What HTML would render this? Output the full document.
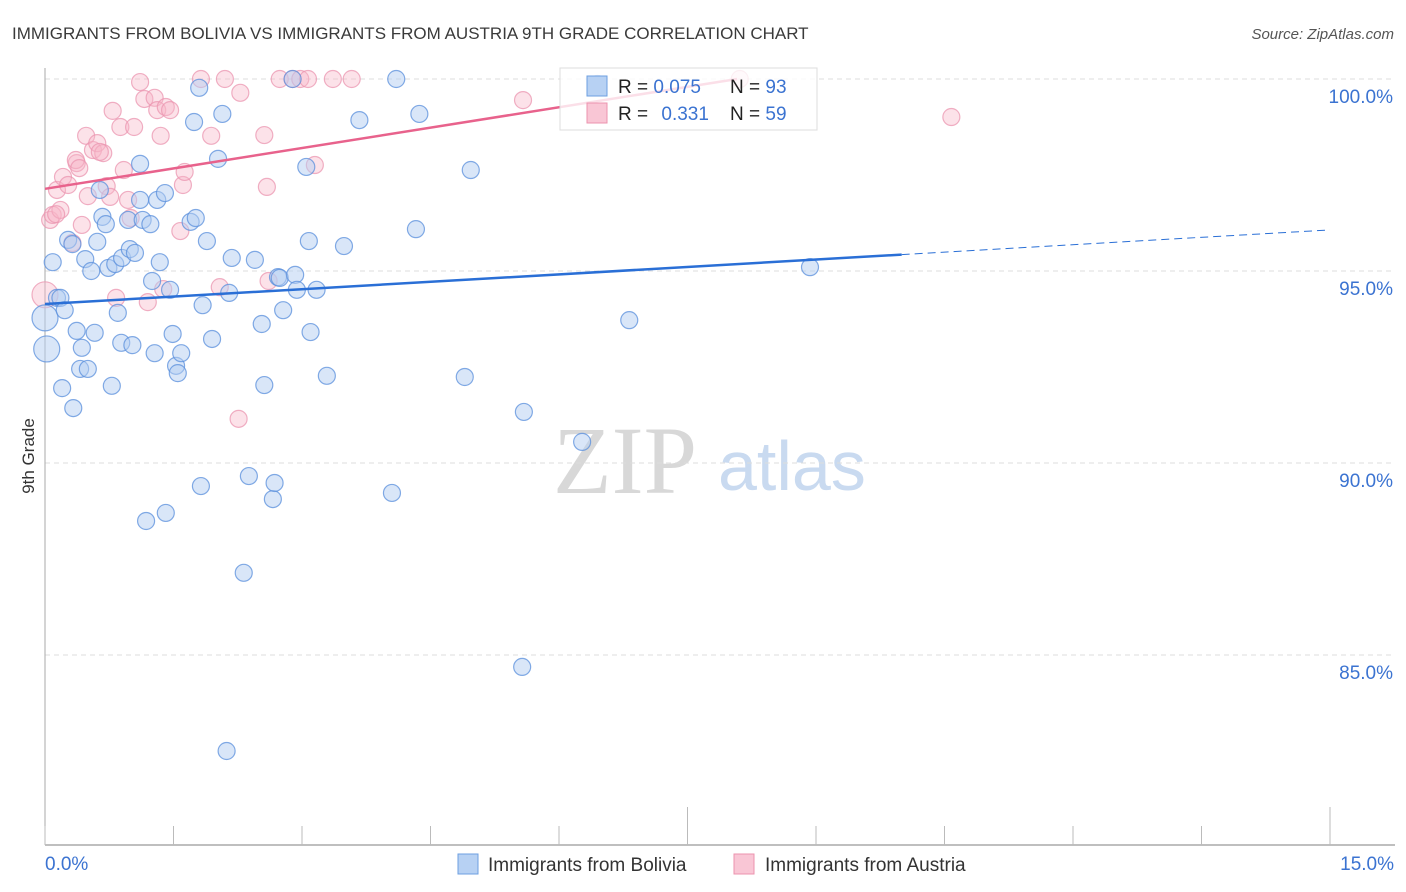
<!DOCTYPE html>
<html><head><meta charset="utf-8">
<style>
body{margin:0;background:#fff;font-family:"Liberation Sans",sans-serif;}
svg{display:block}
</style></head>
<body>
<svg id="chart" width="1406" height="892" viewBox="0 0 1406 892">
<text x="12" y="39" font-size="17" fill="#3a3a3a">IMMIGRANTS FROM BOLIVIA VS IMMIGRANTS FROM AUSTRIA 9TH GRADE CORRELATION CHART</text>
<text x="1394" y="39" font-size="15" fill="#555" font-style="italic" text-anchor="end">Source: ZipAtlas.com</text>
<text x="34" y="456" font-size="17" fill="#333" text-anchor="middle" transform="rotate(-90 34 456)">9th Grade</text>
<g>
<text x="553" y="493" font-size="96" font-family="Liberation Serif,serif" fill="#d8d8d8">ZIP</text>
<text x="718" y="490" font-size="70" fill="#c9daf0">atlas</text>
</g>
<g id="grid"></g>
<g id="axes"></g>
<g id="pts"></g>
<g id="lines"></g>
<g>
<rect x="560" y="68" width="257" height="62" fill="#fff" fill-opacity="0.8" stroke="#ddd"/>
<rect x="587" y="76" width="20" height="20" fill="#b7d1f3" stroke="#6d9fe0"/>
<rect x="587" y="103" width="20" height="20" fill="#f9c6d5" stroke="#ec93ae"/>
<text x="618" y="93" font-size="19" fill="#222">R = <tspan fill="#3b73d1">0.075</tspan></text>
<text x="730" y="93" font-size="19" fill="#222">N = <tspan fill="#3b73d1">93</tspan></text>
<text x="618" y="120" font-size="19" fill="#222">R = <tspan fill="#3b73d1" dx="8">0.331</tspan></text>
<text x="730" y="120" font-size="19" fill="#222">N = <tspan fill="#3b73d1">59</tspan></text>
</g>
<g>
<rect x="458" y="854" width="20" height="20" fill="#b7d1f3" stroke="#6d9fe0"/>
<text x="488" y="871" font-size="19" fill="#333">Immigrants from Bolivia</text>
<rect x="734" y="854" width="20" height="20" fill="#f9c6d5" stroke="#ec93ae"/>
<text x="765" y="871" font-size="19" fill="#333">Immigrants from Austria</text>
</g>
</svg>
<script>
const yTicks=[100,95,90,85];
const yTickLabels=["100.0%","95.0%","90.0%","85.0%"];
const xTicks=[0,1.5,3,4.5,6,7.5,9,10.5,12,13.5,15];
const xTickLabels=["0.0%","15.0%"];
const blueX=[0.00,0.02,0.09,0.14,0.18,0.23,0.20,0.27,0.32,0.33,0.37,0.41,0.43,0.47,0.50,0.54,0.58,0.61,0.64,0.67,0.71,0.74,0.78,0.82,0.85,0.89,0.90,0.97,0.99,1.02,1.05,1.11,1.11,1.14,1.18,1.23,1.25,1.28,1.31,1.34,1.40,1.41,1.46,1.49,1.53,1.55,1.59,1.70,1.74,1.76,1.80,1.82,1.84,1.89,1.95,2.02,2.07,2.12,2.15,2.18,2.32,2.38,2.45,2.53,2.56,2.66,2.68,2.72,2.74,2.78,2.89,2.92,2.94,3.05,3.08,3.10,3.17,3.29,3.49,3.67,4.05,4.10,4.33,4.37,4.90,4.97,5.57,5.59,6.27,6.82,8.93,6.45];
const blueY=[93.78,92.97,95.23,94.30,94.30,93.98,91.95,95.81,95.70,91.43,93.44,92.45,93.00,95.31,92.45,95.00,93.39,95.76,97.11,96.41,96.22,95.08,92.01,95.18,93.91,93.13,95.34,96.33,95.57,93.07,95.47,97.79,96.85,96.33,88.49,96.22,94.74,92.86,96.85,95.23,97.03,88.70,94.51,93.36,92.53,92.34,92.86,96.28,98.88,96.38,99.77,89.40,94.11,95.78,93.23,97.92,99.09,82.50,94.43,95.34,87.14,89.66,95.29,93.62,92.03,89.06,89.48,94.84,94.82,93.98,100.00,94.90,94.51,97.71,95.78,93.41,94.51,92.27,95.65,98.93,89.22,100.00,96.09,99.09,92.24,97.63,84.69,91.33,90.55,93.72,95.10,99.87];
const pinkX=[0.00,0.06,0.09,0.14,0.18,0.21,0.27,0.32,0.37,0.43,0.48,0.50,0.56,0.61,0.68,0.72,0.76,0.79,0.83,0.88,0.92,0.97,1.00,1.04,1.11,1.16,1.20,1.28,1.31,1.35,1.38,1.41,1.46,1.58,1.61,1.63,1.82,1.94,2.04,2.10,2.28,2.26,2.56,2.59,2.61,2.74,2.89,2.98,3.07,3.15,3.36,3.58,5.58,10.58,8.11,0.13,0.36,0.40,0.64];
const pinkY=[94.38,96.33,96.46,97.11,96.59,97.45,97.24,95.73,97.81,96.20,98.52,96.95,98.15,98.33,98.07,97.21,96.93,99.17,94.30,98.75,97.63,96.85,96.38,98.75,99.92,99.48,94.19,99.51,99.19,98.52,94.53,99.27,99.19,96.04,97.24,97.58,100.00,98.52,94.58,100.00,99.64,91.15,98.54,97.19,94.74,100.00,100.00,100.00,100.00,97.76,100.00,100.00,99.45,99.01,100.00,96.48,97.89,97.68,98.10];
const blueTrend=[94.14,96.07];
const pinkTrend=[97.14,0.354];
const NS="http://www.w3.org/2000/svg";
const X=v=>45+v/15*1285;
const Y=v=>79+(100-v)*38.4;
function mk(tag,attrs,parent){const e=document.createElementNS(NS,tag);for(const k in attrs)e.setAttribute(k,attrs[k]);parent.appendChild(e);return e;}
const grid=document.getElementById('grid'),axes=document.getElementById('axes'),pts=document.getElementById('pts'),lines=document.getElementById('lines');
yTicks.forEach((t,i)=>{
 const l=mk('line',{x1:45,x2:1395,y1:Y(t),y2:Y(t),stroke:'#ddd','stroke-dasharray':'5,4'},grid);
 
 
 const tx=mk('text',{x:1393,y:Y(t)+24,'font-size':19,fill:'#3b73d1','text-anchor':'end'},axes);
 tx.textContent=yTickLabels[i];
 
 
});
const ya=mk('line',{x1:45,x2:45,y1:68,y2:845,stroke:'#aaa'},axes);


const xa=mk('line',{x1:45,x2:1395,y1:845,y2:845,stroke:'#aaa','stroke-width':1.5},axes);


xTicks.forEach((t,i)=>{
 const long=(i===5||i===10);
 const tk=mk('line',{x1:X(t),x2:X(t),y1:long?807:826,y2:845,stroke:'#bbb'},axes);
 
 
});
[[0,'start',45],[15,'end',1394]].forEach((d,i)=>{
 const tx=mk('text',{x:d[2],y:870,'font-size':19,fill:'#3b73d1','text-anchor':d[1]},axes);
 tx.textContent=xTickLabels[i];
 
 
});
function drawPts(xs,ys,fill,stroke,fo,name){
 xs.forEach((x,i)=>{
  const big=x<0.05;
  const c=mk('circle',{cx:X(x),cy:Y(ys[i]),r:big?13:8.5,fill:fill,'fill-opacity':fo,stroke:stroke,'stroke-opacity':0.75,'stroke-width':1.2},pts);
  
  
 });
}
drawPts(pinkX,pinkY,'#f7b6c9','#eb95b0',0.4,'austria-point');
drawPts(blueX,blueY,'#b3cef2','#5a8fdc',0.5,'bolivia-point');
const bAt=x=>blueTrend[0]+(blueTrend[1]-blueTrend[0])*x/15;
const b1=mk('line',{x1:X(0),y1:Y(bAt(0)),x2:X(10),y2:Y(bAt(10)),stroke:'#2a6fd6','stroke-width':2.5},lines);


const b2=mk('line',{x1:X(10),y1:Y(bAt(10)),x2:X(15),y2:Y(bAt(15)),stroke:'#2a6fd6','stroke-width':1,'stroke-dasharray':'8,5'},lines);


const pEnd=(100-pinkTrend[0])/pinkTrend[1];
const p1=mk('line',{x1:X(0),y1:Y(pinkTrend[0]),x2:X(pEnd),y2:Y(100),stroke:'#e8628c','stroke-width':2.5},lines);


</script>
</body></html>
